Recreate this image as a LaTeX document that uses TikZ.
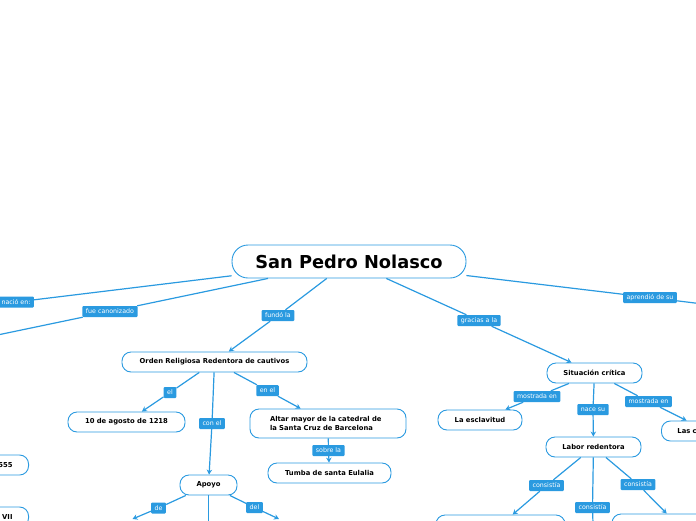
\documentclass[tikz,border=0pt]{standalone}
\usepackage{fontspec}
\setmainfont{DejaVu Sans}
\usetikzlibrary{arrows.meta,positioning}
\definecolor{mapblue}{HTML}{2A9AE0}

\begin{document}
\begin{tikzpicture}[
    x=1pt, y=-1pt,
    >=Stealth,
    box/.style={draw=mapblue, line width=0.9pt, rounded corners=9pt, fill=white, align=center,
                font=\fontsize{6.8}{8.6}\selectfont\bfseries, minimum height=20pt, inner sep=0pt},
    root/.style={box, rounded corners=16pt, minimum height=33pt, minimum width=234pt,
                 font=\fontsize{17.8}{20}\selectfont\bfseries},
    lbl/.style={fill=mapblue, text=white, rounded corners=1pt, font=\fontsize{6.3}{7}\selectfont,
                inner xsep=3.5pt, inner ysep=0pt, minimum height=11pt},
    arr/.style={-{Stealth[length=5pt,width=5.5pt]}, mapblue, line width=1.2pt},
    lin/.style={mapblue, line width=1.2pt}
]
\useasboundingbox (0,0) rectangle (696,520);
\clip (0,0) rectangle (696,520);

% concept nodes
\node[root] (nolasco) at (349,261.5) {San Pedro Nolasco};
\node[box, minimum width=185pt] (orden) at (214.5,362) {Orden Religiosa Redentora de cautivos};
\node[box, minimum width=117pt] (fecha) at (126.5,422) {10 de agosto de 1218};
\node[box, text width=116pt, align=left, inner xsep=20pt, minimum height=29pt] (altar) at (328,423.5)
    {Altar mayor de la catedral de\\la Santa Cruz de Barcelona};
\node[box, minimum width=123pt] (tumba) at (329.5,473) {Tumba de santa Eulalia};
\node[box, minimum width=57pt] (apoyo) at (208.5,485) {Apoyo};
\node[box, minimum width=95pt] (situacion) at (594.5,373) {Situación crítica};
\node[box, minimum width=84pt] (esclavitud) at (480,420) {La esclavitud};
\node[box, minimum width=95pt] (labor) at (593.5,447) {Labor redentora};
\node[box, anchor=west, text width=60pt, align=left, inner xsep=16pt] (lasc) at (661,431) {Las c};
\node[box, minimum width=129pt] (redencion1) at (500.5,525) {};
\node[box, minimum width=130pt] (redencion2) at (677,524) {};
\node[box, anchor=east, text width=50pt, align=right, inner xsep=16pt] (anio) at (29,465) {555};
\node[box, anchor=east, text width=50pt, align=right, inner xsep=16pt] (papa) at (29,517) {VII};

% link labels
\node[lbl] (nacio) at (16,302) {nació en:};
\node[lbl] (canon) at (110,311.5) {fue canonizado};
\node[lbl] (fundo) at (278,315.5) {fundó la};
\node[lbl] (gracias) at (479,320.5) {gracias a la};
\node[lbl] (aprendio) at (650,297.5) {aprendió de su};
\node[lbl] (el) at (170,392.5) {el};
\node[lbl] (conel) at (212,423.5) {con el};
\node[lbl] (enel) at (267.5,390.5) {en el};
\node[lbl] (sobre) at (328.5,450.5) {sobre la};
\node[lbl] (de) at (158.5,508) {de};
\node[lbl] (del) at (254.5,507.5) {del};
\node[lbl] (mostrada1) at (537,396.5) {mostrada en};
\node[lbl] (nace) at (593,409.5) {nace su};
\node[lbl] (mostrada2) at (648.5,401.5) {mostrada en};
\node[lbl] (consiste1) at (546.5,485.5) {consistía};
\node[lbl] (consiste2) at (592.5,507.5) {consistía};
\node[lbl] (consiste3) at (638,484.5) {consistía};

% free ends off the page
\coordinate (offnacio) at (-60,311);
\coordinate (offcanon) at (-60,347);
\coordinate (offaprendio) at (760,311);
\coordinate (offde) at (132.5,519);
\coordinate (offapoyo) at (208.5,540);
\coordinate (offdel) at (279,519);
\coordinate (offlabor) at (593.5,540);

\draw[lin] (nolasco) -- (nacio) -- (offnacio);
\draw[lin] (nolasco) -- (canon) -- (offcanon);
\draw[arr] (nolasco) -- (fundo) -- (orden);
\draw[arr] (nolasco) -- (gracias) -- (situacion);
\draw[lin] (nolasco) -- (aprendio) -- (offaprendio);
\draw[arr] (orden) -- (el) -- (fecha);
\draw[arr] (orden) -- (conel) -- (apoyo);
\draw[arr] (orden) -- (enel) -- (altar);
\draw[arr] (altar) -- (sobre) -- (tumba);
\draw[arr] (apoyo) -- (de) -- (offde);
\draw[lin] (apoyo) -- (offapoyo);
\draw[arr] (apoyo) -- (del) -- (offdel);
\draw[arr] (situacion) -- (mostrada1) -- (esclavitud);
\draw[arr] (situacion) -- (nace) -- (labor);
\draw[arr] (situacion) -- (mostrada2) -- (lasc);
\draw[arr] (labor) -- (consiste1) -- (redencion1);
\draw[lin] (labor) -- (consiste2) -- (offlabor);
\draw[arr] (labor) -- (consiste3) -- (redencion2);
\end{tikzpicture}
\end{document}
